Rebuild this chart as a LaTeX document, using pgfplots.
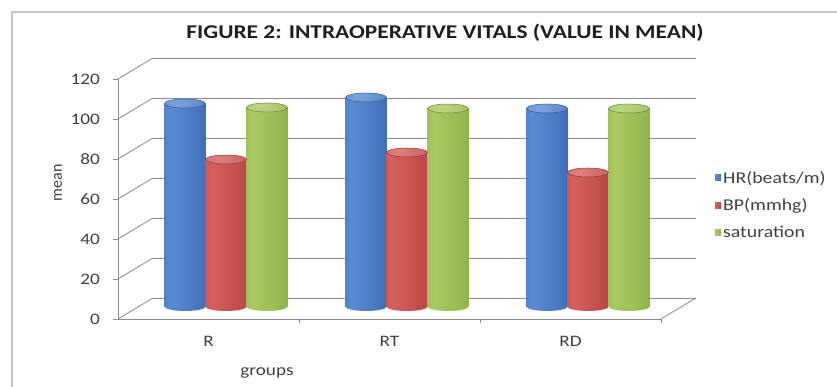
\documentclass[border=0pt]{standalone}
\usepackage{fontspec}
\setmainfont{Carlito}[FakeStretch=1.2]
\usepackage{pgfplots}
\pgfplotsset{compat=1.18}
\usepackage{pgfplotstable}
\usetikzlibrary{shapes.geometric}

\definecolor{gridc}{HTML}{8C8C8C}
\definecolor{txt}{HTML}{404040}
\definecolor{framec}{HTML}{C8C8C8}
\definecolor{legB}{HTML}{4F81BD}
\definecolor{legR}{HTML}{C0504D}
\definecolor{legG}{HTML}{9BBB59}
% cylinder body tones: left edge, highlight, body, right edge
\definecolor{bA}{HTML}{3562A8}\definecolor{bB}{HTML}{5A8CD5}\definecolor{bC}{HTML}{4473BB}\definecolor{bD}{HTML}{2B4F8C}
\definecolor{rA}{HTML}{A83C3A}\definecolor{rB}{HTML}{D6605D}\definecolor{rC}{HTML}{BF4B48}\definecolor{rD}{HTML}{8E302E}
\definecolor{gA}{HTML}{7FA23C}\definecolor{gB}{HTML}{AACB63}\definecolor{gC}{HTML}{93B74E}\definecolor{gD}{HTML}{6C8A32}
\pgfdeclarehorizontalshading{cylBlue}{100bp}{color(0bp)=(bA); color(32bp)=(bB); color(70bp)=(bC); color(100bp)=(bD)}
\pgfdeclarehorizontalshading{cylRed}{100bp}{color(0bp)=(rA); color(32bp)=(rB); color(70bp)=(rC); color(100bp)=(rD)}
\pgfdeclarehorizontalshading{cylGreen}{100bp}{color(0bp)=(gA); color(32bp)=(gB); color(70bp)=(gC); color(100bp)=(gD)}
% lit tops
\pgfdeclarehorizontalshading{topBlue}{100bp}{color(0bp)=(bB!85!bA); color(40bp)=(bB!80!white); color(100bp)=(bC)}
\pgfdeclarehorizontalshading{topRed}{100bp}{color(0bp)=(rB!85!rA); color(40bp)=(rB!80!white); color(100bp)=(rC)}
\pgfdeclarehorizontalshading{topGreen}{100bp}{color(0bp)=(gB!85!gA); color(40bp)=(gB!80!white); color(100bp)=(gC)}

% mean intraoperative vitals per group
\pgfplotstableread{
x hr bp sat
0 101.5 73.5 99.5
1 104.5 77 99
2 99 67 99
}\vitals

\tikzset{
  cap/.style={ellipse, anchor=center, minimum width=41pt, minimum height=9pt,
    inner sep=0pt, outer sep=0pt, shade, shading=#1},
}
% one cylinder per plot, so that each body gets its own shading
\pgfplotsset{
  cyl/.style n args={5}{ybar, bar width=41pt, bar shift=#1, draw=none, shade, shading=#2,
    restrict expr to domain={\coordindex}{#4:#4},
    nodes near coords={}, every node near coord/.append style={cap=#5, xshift=#1,
      draw=#3!70!black, line width=0.5pt},
    legend image code/.code={\fill[#3] (0pt,-3pt) rectangle (6pt,3pt);}},
  base/.style n args={3}{forget plot, ybar, bar width=41pt, bar shift=#1, draw=none, fill=none,
    restrict expr to domain={\coordindex}{#3:#3},
    nodes near coords={}, every node near coord/.append style={cap=#2, xshift=#1}},
}

\begin{document}
\begin{tikzpicture}
\path[use as bounding box] (0pt,0pt) rectangle (837pt,387pt);
\draw[framec, line width=1.2pt] (12pt,0pt) -- (12pt,375pt) -- (837pt,375pt);

% back wall with gridlines
\begin{axis}[scale only axis, width=543pt, height=240pt, at={(153pt,89pt)}, anchor=south west,
  xmin=-0.5, xmax=2.5, ymin=0, ymax=120, ytick={0,20,...,120}, xtick=\empty,
  yticklabels={}, axis line style={draw=none}, tick style={draw=none},
  ymajorgrids, grid style={gridc, line width=0.8pt}]
\end{axis}

% front frame: value axis, floor edge and side wall
\begin{axis}[scale only axis, width=543pt, height=240pt, at={(118pt,68pt)}, anchor=south west,
  xmin=-0.5, xmax=2.5, ymin=0, ymax=120, clip=false,
  axis x line*=bottom, axis y line*=left, axis line style={gridc, line width=0.8pt},
  ytick={0,20,...,120}, tick align=outside, major tick length=5pt,
  tick style={gridc, line width=0.8pt},
  xtick={0,1,2}, xticklabels={R,RT,RD}, major x tick style={draw=none},
  minor xtick={0.5,1.5,2.5}, minor tick length=4pt,
  /pgf/number format/assume math mode=true,
  yticklabel style={font=\fontsize{16}{18}\selectfont, text=txt, anchor=east, inner sep=0pt, xshift=-13pt},
  xticklabel style={font=\fontsize{16}{18}\selectfont, text=txt, anchor=north, inner sep=0pt, yshift=-12pt}]
\pgfplotsinvokeforeach{0,20,...,120}{\draw[gridc, line width=0.8pt] (axis cs:-0.5,#1) -- ++(35pt,21pt);}
\draw[gridc, line width=0.8pt] (axis cs:2.5,0) -- ++(35pt,21pt);
\end{axis}

% cylinders
\begin{axis}[scale only axis, width=543pt, height=240pt, at={(135.5pt,80.5pt)}, anchor=south west,
  xmin=-0.5, xmax=2.5, ymin=0, ymax=120, clip=false, hide axis,
  legend style={at={(1.0672,0.423)}, anchor=west, draw=none, fill=none, inner sep=0pt,
    font=\fontsize{16.5}{19}\selectfont, text=txt, row sep=10pt, legend cell align=left,
    nodes={inner sep=2pt}}]
% rounded bottoms
\pgfplotsinvokeforeach{0,1,2}{
  \addplot[base={-41pt}{cylBlue}{#1}] table[x=x, y expr=0] {\vitals};
  \addplot[base={0pt}{cylRed}{#1}] table[x=x, y expr=0] {\vitals};
  \addplot[base={41pt}{cylGreen}{#1}] table[x=x, y expr=0] {\vitals};
}
% bodies and tops
\addplot[cyl={-41pt}{cylBlue}{legB}{0}{topBlue}] table[x=x, y=hr] {\vitals};
\pgfplotsinvokeforeach{1,2}{\addplot[forget plot, cyl={-41pt}{cylBlue}{legB}{#1}{topBlue}] table[x=x, y=hr] {\vitals};}
\addplot[cyl={0pt}{cylRed}{legR}{0}{topRed}] table[x=x, y=bp] {\vitals};
\pgfplotsinvokeforeach{1,2}{\addplot[forget plot, cyl={0pt}{cylRed}{legR}{#1}{topRed}] table[x=x, y=bp] {\vitals};}
\addplot[cyl={41pt}{cylGreen}{legG}{0}{topGreen}] table[x=x, y=sat] {\vitals};
\pgfplotsinvokeforeach{1,2}{\addplot[forget plot, cyl={41pt}{cylGreen}{legG}{#1}{topGreen}] table[x=x, y=sat] {\vitals};}
\legend{HR(beats/m), BP(mmhg), saturation}
\end{axis}

\node[text=black!88] at (445pt,354pt) {\fontsize{19.5}{22}\selectfont\bfseries FIGURE 2: INTRAOPERATIVE VITALS (VALUE IN MEAN)};
\node[rotate=90, text=txt] at (58pt,204pt) {\addfontfeature{FakeStretch=1}\fontsize{16}{18}\selectfont mean};
\node[text=txt] at (267pt,14pt) {\fontsize{16}{18}\selectfont groups};
\end{tikzpicture}
\end{document}
